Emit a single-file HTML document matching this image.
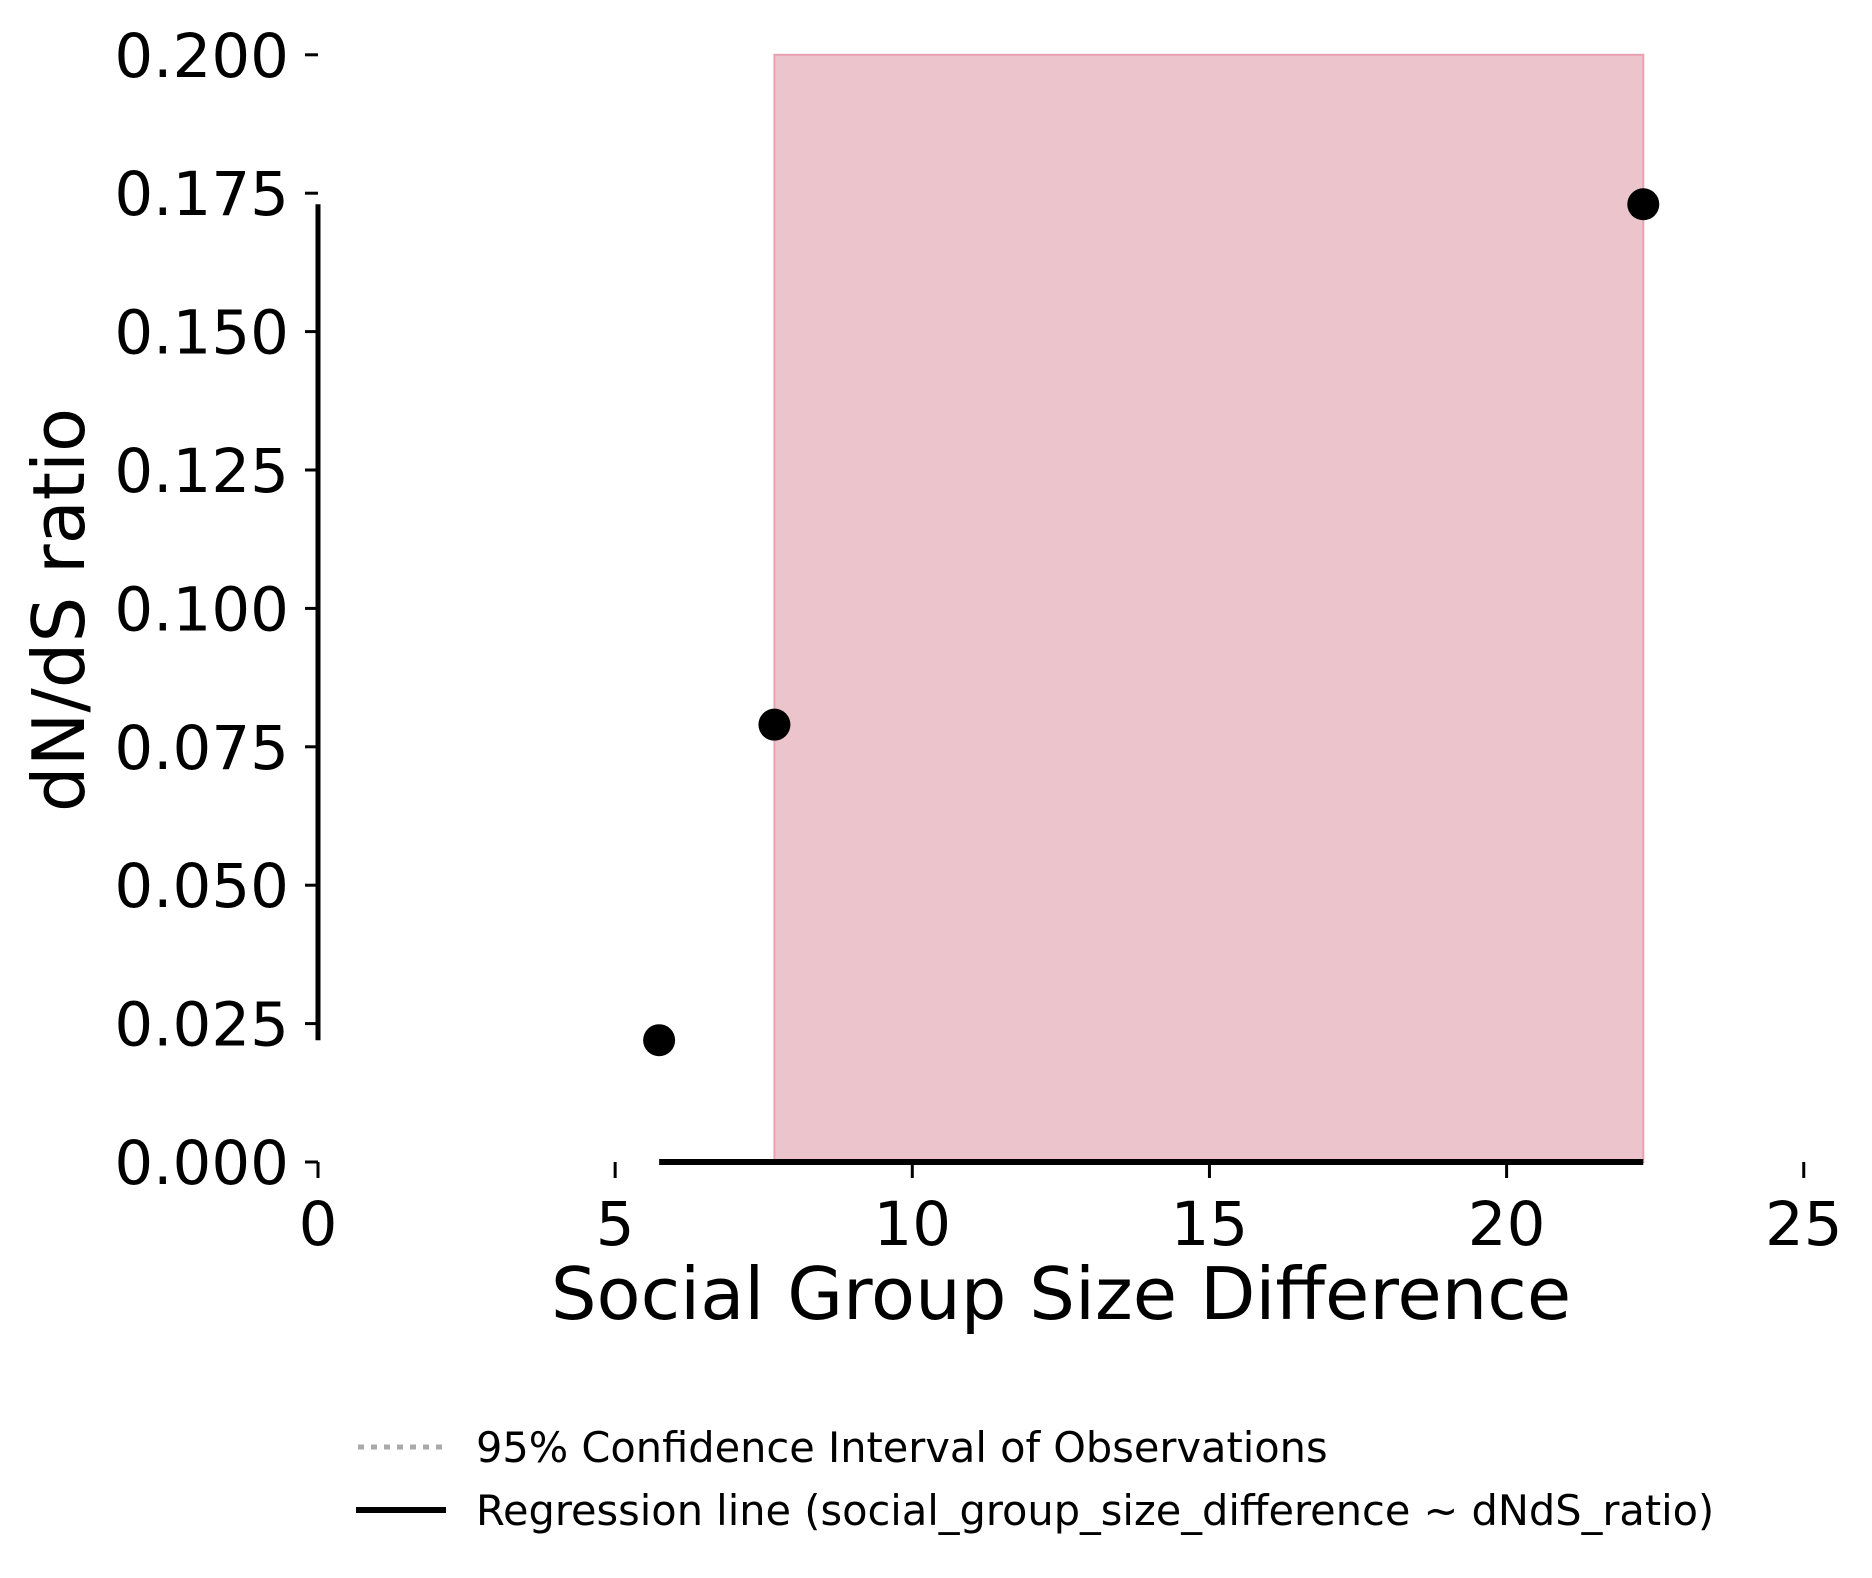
<!DOCTYPE html>
<html><head><meta charset="utf-8"><style>
body{margin:0;background:#fff}
svg{display:block;font-family:"DejaVu Sans","Liberation Sans",sans-serif}
</style></head><body>
<svg id="chart" width="1872" height="1578"></svg>
<script>
const xs=[5.74,7.68,22.3];
const ys=[0.022,0.079,0.173];
const ciRange=[7.68,22.3];
const xTicks=[0,5,10,15,20,25];
const yTicks=[0,0.025,0.05,0.075,0.1,0.125,0.15,0.175,0.2];
const NS='http://www.w3.org/2000/svg';
const svg=document.getElementById('chart');
const X=v=>318+v*59.43, Y=v=>1162-v*5536;
function mk(t,a,p){const e=document.createElementNS(NS,t);for(const k in a)e.setAttribute(k,a[k]);(p||svg).appendChild(e);return e;}
let r=mk('rect',{x:X(ciRange[0]),y:Y(0.2),width:X(ciRange[1])-X(ciRange[0]),height:Y(0)-Y(0.2),fill:'#ecc4cc',stroke:'#e8a2b0','stroke-width':2});


let ya=mk('line',{x1:318,x2:318,y1:Y(Math.min(...ys)),y2:Y(Math.max(...ys)),stroke:'#000','stroke-width':5});


let xa=mk('line',{x1:X(Math.min(...xs)),x2:X(Math.max(...xs)),y1:Y(0),y2:Y(0),stroke:'#000','stroke-width':6});


yTicks.forEach(v=>{
 let l=mk('line',{x1:305,x2:318,y1:Y(v),y2:Y(v),stroke:'#000','stroke-width':3});
 
 
 let t=mk('text',{x:289,y:Y(v)+22,'text-anchor':'end','font-size':61});t.textContent=v.toFixed(3);
 
 
});
xTicks.forEach(v=>{
 let l=mk('line',{x1:X(v),x2:X(v),y1:1162,y2:1178,stroke:'#000','stroke-width':3});
 
 
 let t=mk('text',{x:X(v),y:1245,'text-anchor':'middle','font-size':61});t.textContent=v;
 
 
});
xs.forEach((v,i)=>{
 let c=mk('circle',{cx:X(v),cy:Y(ys[i]),r:16,fill:'#000'});
 
 
});
let xl=mk('text',{x:1061,y:1319,'text-anchor':'middle','font-size':72});xl.textContent='Social Group Size Difference';


let yl=mk('text',{x:0,y:0,'text-anchor':'middle','font-size':72,transform:'translate(84,610) rotate(-90)'});yl.textContent='dN/dS ratio';


let g=mk('g',{});


mk('line',{x1:358,x2:446,y1:1447,y2:1447,stroke:'#aaa','stroke-width':5,'stroke-dasharray':'6,7'},g);
let t1=mk('text',{x:476,y:1462,'font-size':41.5},g);t1.textContent='95% Confidence Interval of Observations';


mk('line',{x1:356,x2:446,y1:1510,y2:1510,stroke:'#000','stroke-width':6},g);
let t2=mk('text',{x:476,y:1525,'font-size':41.5},g);t2.textContent='Regression line (social_group_size_difference ~ dNdS_ratio)';


</script>
</body></html>
